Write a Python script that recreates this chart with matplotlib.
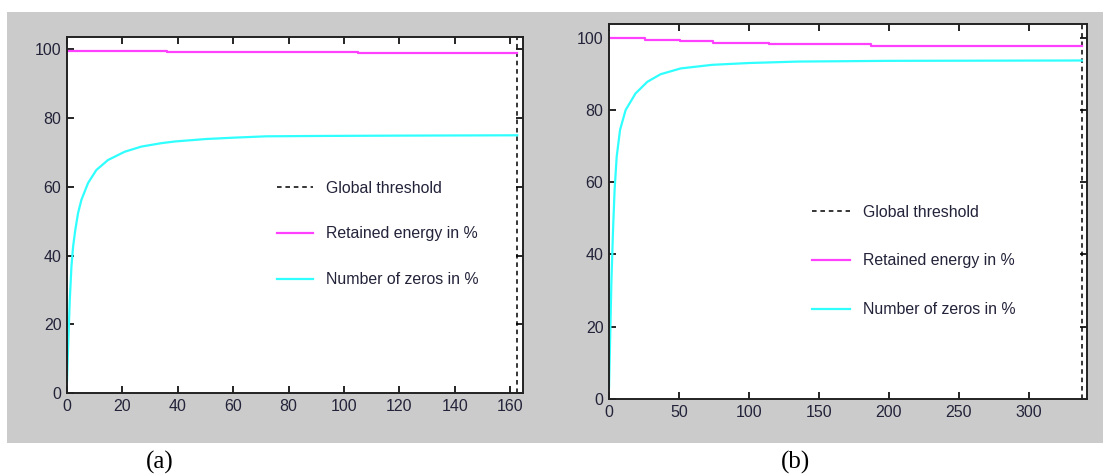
import numpy as np
import matplotlib
matplotlib.use('Agg')
import matplotlib.pyplot as plt
from matplotlib.patches import Rectangle

plt.rcParams['font.family'] = ['Liberation Sans', 'DejaVu Sans']

# (a) 163 coefficients
thr_a = 162.5
energy_x_a = [0, 36, 105, 162.5]
energy_y_a = [99.6, 99.3, 98.8, 98.8]
zeros_x_a = [0, 0.4, 1.0, 1.6, 2.2, 3.0, 4.0, 5.2, 7.6, 10.6, 14.8, 20.8,
             26.8, 34, 39, 50, 60, 72, 90, 120, 162.5]
zeros_y_a = [3.4, 13.5, 27, 36.8, 42.6, 47.5, 52.4, 56.2, 61.1, 64.9, 67.8,
             70.2, 71.7, 72.7, 73.2, 73.9, 74.3, 74.7, 74.8, 74.9, 75.0]

# (b) 340 coefficients
thr_b = 338
energy_x_b = [0, 26, 51, 74, 114, 187, 338]
energy_y_b = [99.8, 99.4, 99.0, 98.6, 98.2, 97.8, 97.8]
zeros_x_b = [0, 0.7, 1.7, 2.9, 4.0, 5.5, 7.9, 11.9, 19, 27.4, 36.9, 51.2,
             73.8, 100, 135, 200, 338]
zeros_y_b = [3.1, 14.6, 32.2, 46.9, 57.9, 67.1, 74.5, 80, 84.6, 87.8, 89.9,
             91.5, 92.5, 93.0, 93.4, 93.6, 93.7]

xticks_a = [0, 20, 40, 60, 80, 100, 120, 140, 160]
xticks_b = [0, 50, 100, 150, 200, 250, 300]
yticks = [0, 20, 40, 60, 80, 100]

fig = plt.figure(figsize=(11.08, 4.76), dpi=100)
W, H = 1108, 476
fig.patches.append(Rectangle((7 / W, 1 - 443 / H), 1096 / W, 431 / H,
                             transform=fig.transFigure, facecolor='#cbcbcb',
                             edgecolor='none', zorder=-10))

ax_a = fig.add_axes([67 / W, 1 - 393 / H, 456 / W, 356 / H])
ax_b = fig.add_axes([609 / W, 1 - 399 / H, 478 / W, 375 / H])

# legend anchor (pixels), spacing, handle length
panels = [
    (ax_a, thr_a, energy_x_a, energy_y_a, zeros_x_a, zeros_y_a, xticks_a,
     164.6, 103.6, (277, 234), 1.94, 2.3),
    (ax_b, thr_b, energy_x_b, energy_y_b, zeros_x_b, zeros_y_b, xticks_b,
     341.6, 103.8, (812, 261), 2.14, 2.4),
]

for ax, thr, ex, ey, zx, zy, xt, xmax, ymax, anchor, spacing, hlen in panels:
    ax.set_facecolor('white')
    ax.axvline(thr, color='black', ls=(0, (3, 2.5)), lw=1.1,
               label='Global threshold')
    ax.plot(ex, ey, color='#ff40ff', lw=1.6, drawstyle='steps-post',
            label='Retained energy in %')
    ax.plot(zx, zy, color='#30ffff', lw=1.6, label='Number of zeros in %')
    ax.set_xlim(0, xmax)
    ax.set_ylim(0, ymax)
    ax.set_xticks(xt)
    ax.set_yticks(yticks)
    ax.tick_params(direction='in', length=5, width=1.2, top=True, right=True,
                   labelsize=11.5, labelcolor='#23233a', pad=4)
    for s in ax.spines.values():
        s.set_linewidth(1.4)
        s.set_color('#222222')
    ax.legend(loc='center left',
              bbox_to_anchor=(anchor[0] / W, 1 - anchor[1] / H),
              bbox_transform=fig.transFigure, frameon=False,
              borderpad=0, borderaxespad=0,
              fontsize=11.4, handlelength=hlen, handletextpad=0.8,
              labelspacing=spacing, labelcolor='#23233a')

fig.text(160 / W, 1 - 462 / H, '(a)', ha='center', va='center',
         family='Liberation Serif', fontsize=18)
fig.text(795 / W, 1 - 462 / H, '(b)', ha='center', va='center',
         family='Liberation Serif', fontsize=18)

fig.savefig('out.png', dpi=100, facecolor='white')
